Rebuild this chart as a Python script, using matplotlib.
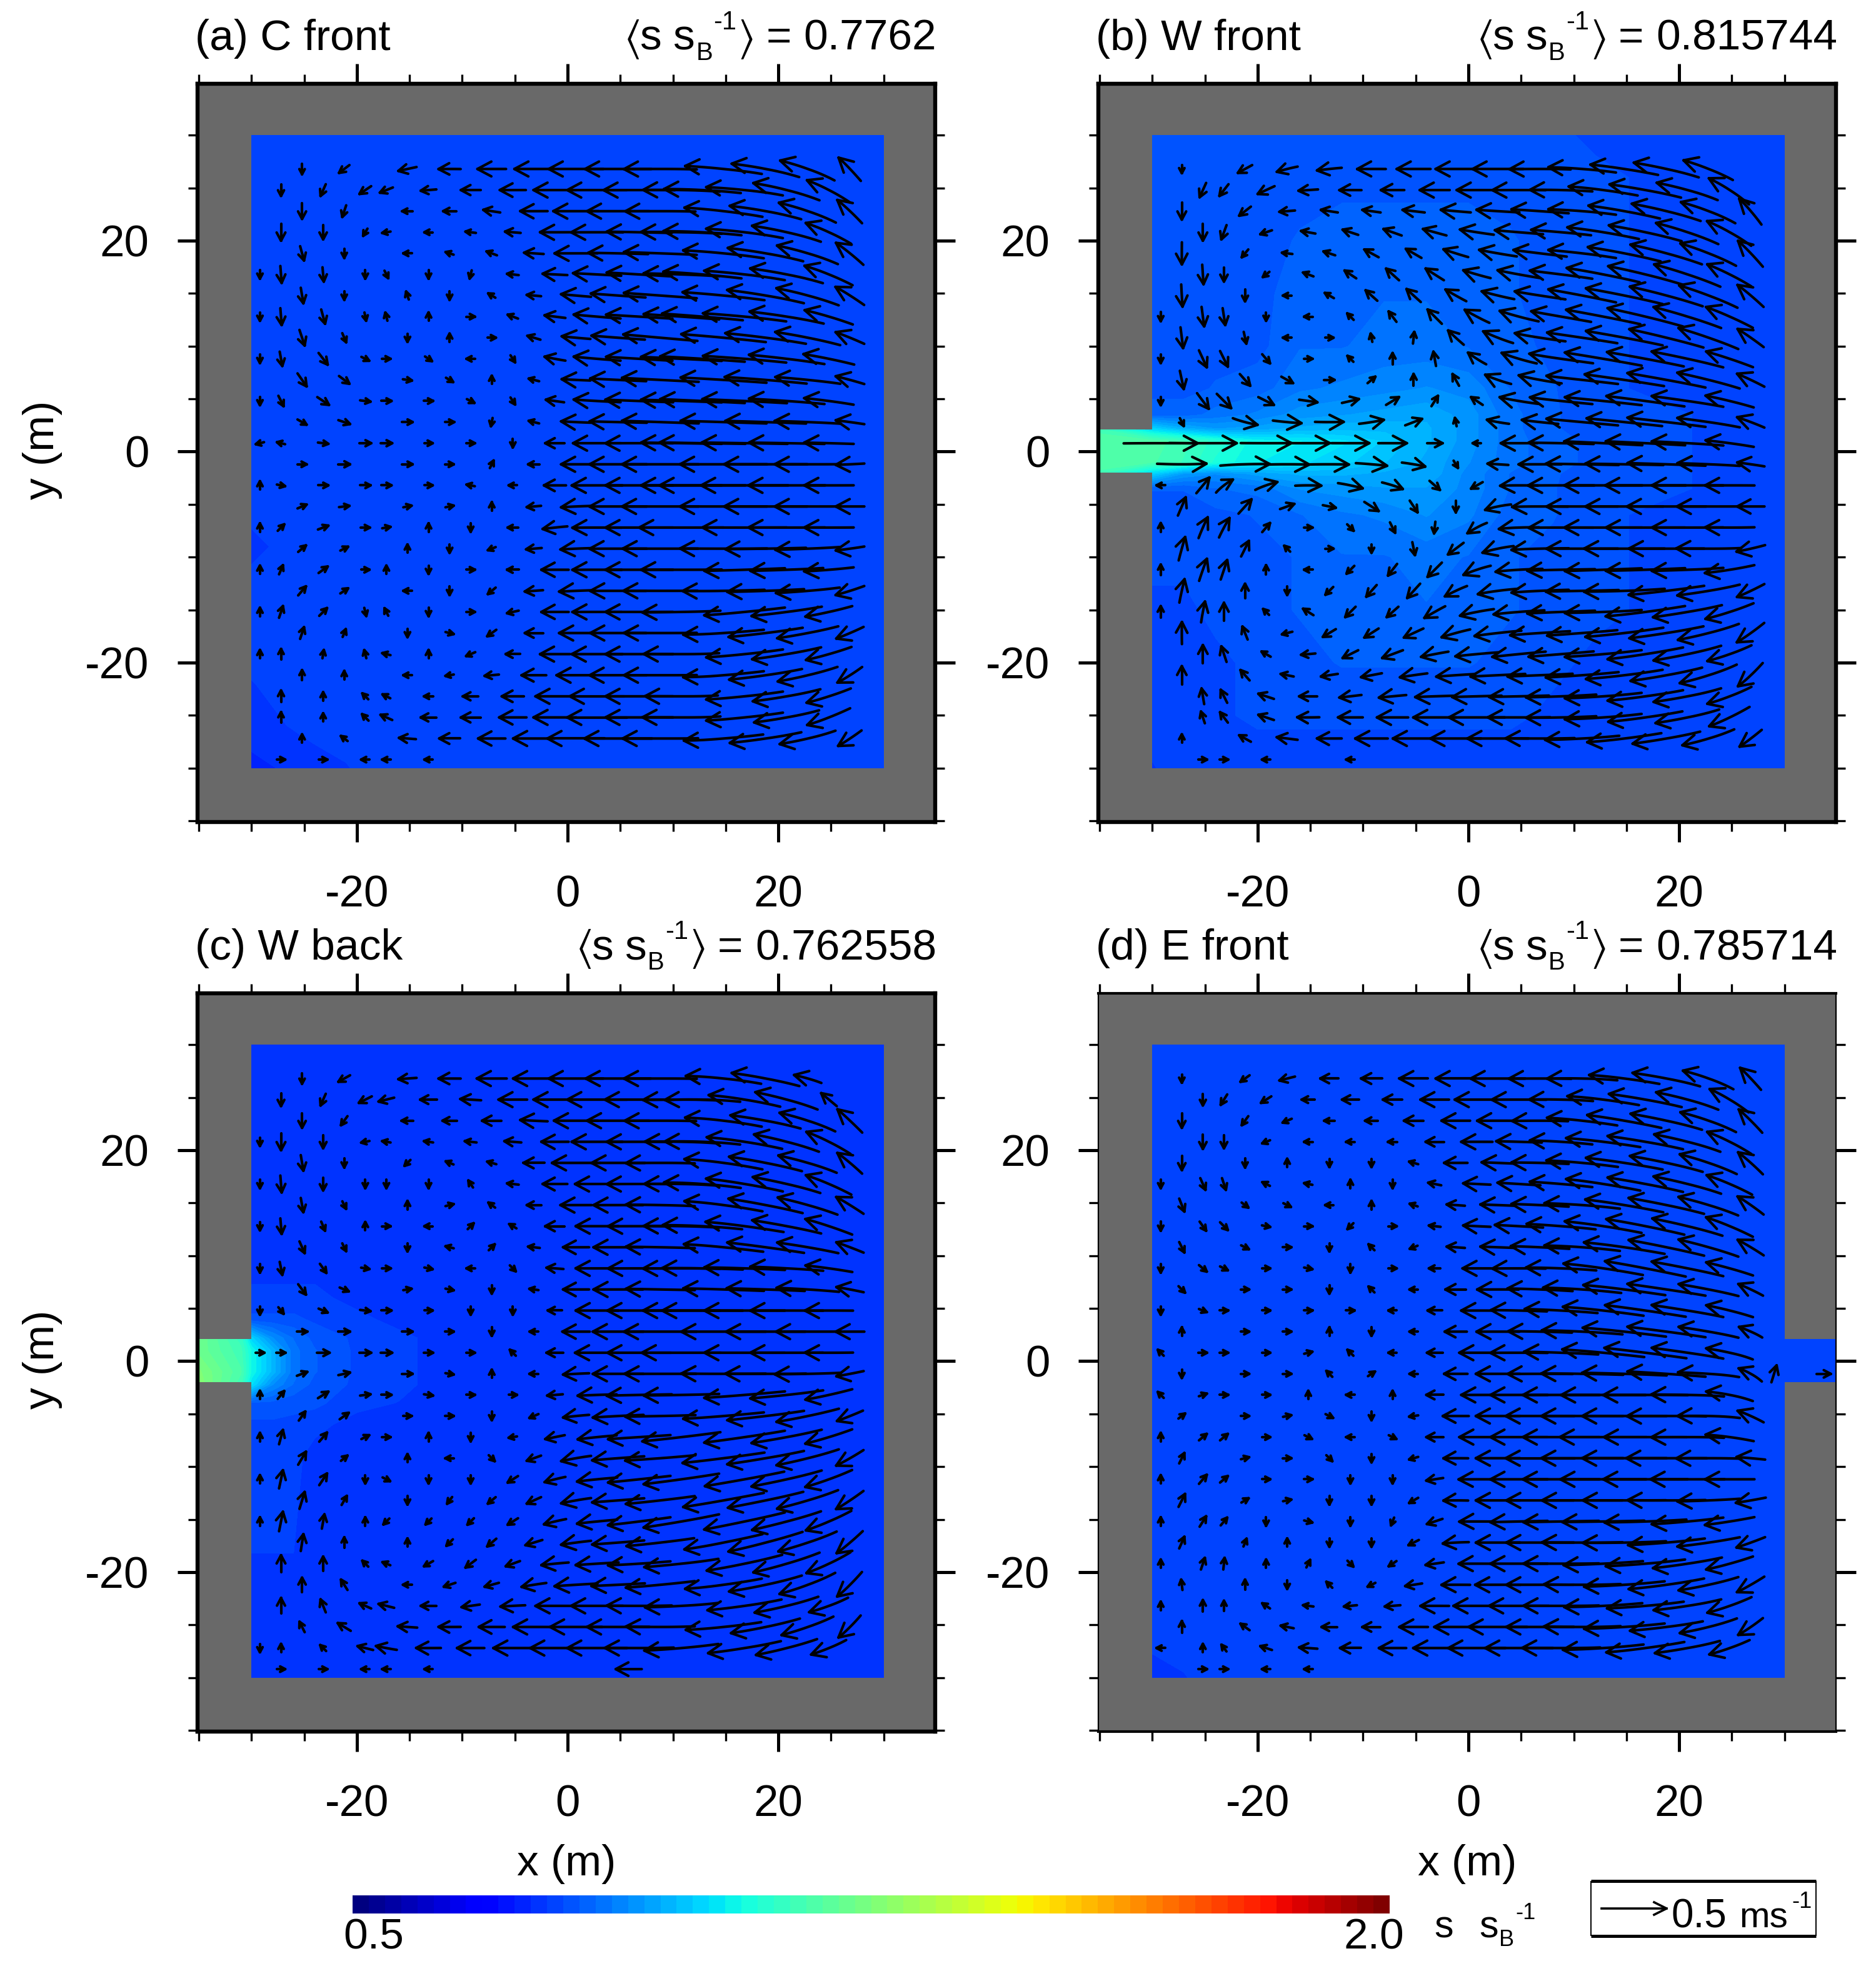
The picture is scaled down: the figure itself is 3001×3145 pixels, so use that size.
#!/usr/bin/env python3
import numpy as np
import matplotlib
matplotlib.use("Agg")
import matplotlib.pyplot as plt
from matplotlib.collections import LineCollection
from matplotlib.colorbar import Colorbar
from matplotlib.colors import Normalize
from matplotlib.cm import ScalarMappable
from matplotlib.lines import Line2D
from matplotlib.patches import Rectangle

W, H = 3001, 3145
plt.rcParams['font.family'] = ['Liberation Sans', 'DejaVu Sans']
plt.rcParams['axes.unicode_minus'] = False
plt.rcParams['mathtext.fontset'] = 'custom'
plt.rcParams['mathtext.rm'] = 'Liberation Sans'
plt.rcParams['mathtext.it'] = 'Liberation Sans'
plt.rcParams['mathtext.bf'] = 'Liberation Sans'
plt.rcParams['mathtext.default'] = 'regular'

# arrow columns (m) for the thinned grid, two patterns per panel family
cols_A = [-29, -27, -23, -19, -17, -13, -9, -5, -1, 3, 7, 11, 13, 17, 21, 25]
cols_B = [-25, -21, -15, -11, -7, -3, 1, 5, 9, 15, 19, 23, 27]
cols_P = [-27, -21, -17, -13, -9, -5, -1, 3, 7, 11, 15, 19, 23, 27]
cols_Q = [-29, -25, -23, -19, -15, -11, -7, -3, 1, 5, 9, 13, 17, 21, 25]
col_sets = {'A': cols_A, 'B': cols_B, 'P': cols_P, 'Q': cols_Q}
row_y = [26.8 - 2 * k for k in range(29)]

types_a = 'BABABABABABABABABABABABABAABA'
types_b = 'PQPQPQPQPQPQPQPQPQPQPQPQPQQPQ'
types_c = 'BABABABABABABABABABABABABABAA'
types_d = 'PQPQPQPQPQPQPQPQPQPQPQPQPQPQQ'

# velocities in cm/s, flat u,v pairs, one list per row from top to bottom
vel_a = [
 [0,-8, -8,-6, -14,-3, -17,0, -22,0, -30,0, -42,0, -51,0, -56,0, -59,6, -52,10, -42,15, -17,18],
 [0,0, 0,-9, -4,-9, -9,-6, -10,-4, -12,-1, -15,0, -20,0, -33,0, -46,0, -55,0, -59,1, -59,3, -59,6, -51,13, -33,17],
 [0,-12, -3,-9, -8,0, -10,0, -13,2, -21,0, -35,0, -48,0, -54,0, -60,7, -55,10, -44,15, -19,18],
 [0,0, 0,-13, 0,-11, -3,-5, -6,-1, -6,0, -8,1, -12,1, -23,0, -40,0, -50,1, -62,1, -60,3, -59,7, -53,12, -35,16],
 [3,-11, 0,-7, -6,0, -6,2, -8,3, -15,1, -33,0, -46,1, -56,2, -62,6, -58,10, -47,14, -21,17],
 [0,-6, 1,-13, 1,-11, 0,-5, 2,-4, 0,-4, -1,-4, -9,1, -19,1, -37,2, -50,3, -58,2, -60,5, -62,7, -56,11, -37,15],
 [2,-12, 0,-6, -1,3, 0,-5, -5,3, -11,1, -23,2, -42,3, -56,4, -63,6, -59,10, -48,13, -22,14],
 [0,-6, 1,-13, 3,-11, 1,-5, -1,4, 0,5, 4,0, -8,3, -16,2, -36,3, -51,3, -58,4, -62,5, -64,6, -57,9, -37,11],
 [4,-12, 3,-7, 0,-5, 0,5, 4,0, -10,3, -22,2, -41,3, -57,5, -65,6, -62,8, -50,10, -22,9],
 [0,-5, 2,-11, 7,-9, 6,-3, 6,0, 3,-2, -4,0, 2,-3, -16,3, -36,3, -51,3, -62,3, -65,4, -64,5, -58,7, -39,8],
 [7,-10, 8,-6, 7,-1, 5,-3, 0,5, -8,2, -22,1, -43,2, -59,3, -66,4, -63,5, -50,5, -22,6],
 [0,-4, 4,-8, 9,-6, 8,-1, 8,0, 7,0, 4,-2, 2,-3, -14,2, -36,2, -52,2, -62,2, -65,3, -65,3, -58,4, -38,5],
 [7,-4, 9,-3, 8,0, 7,0, -1,-5, -8,2, -23,1, -44,1, -59,2, -66,2, -62,2, -51,2, -22,3],
 [-4,-1, -4,1, 8,-1, 9,0, 9,0, 6,0, 5,0, 0,-5, -15,0, -37,0, -52,0, -62,1, -66,1, -66,1, -58,1, -38,1],
 [7,0, 9,0, 8,0, 5,0, 2,4, -9,0, -23,0, -44,0, -59,0, -67,0, -64,0, -51,0, -22,-1],
 [0,4, 5,-1, 8,0, 8,0, 8,0, 6,0, -5,1, -5,0, -17,0, -39,0, -52,0, -62,0, -66,0, -67,0, -59,0, -38,0],
 [7,3, 8,1, 5,1, 5,1, 0,5, -11,-1, -23,-1, -44,0, -59,0, -67,0, -64,0, -51,0, -22,0],
 [0,5, 5,5, 8,3, 7,0, 6,1, 0,5, 0,-5, -8,0, -19,-2, -38,0, -52,0, -65,0, 0,0, -65,0, -59,0, -38,0],
 [6,5, 6,3, 0,4, 0,-4, -5,-2, -12,-1, -24,-1, -44,0, -58,0, -67,0, -62,-1, -50,-2, -22,-3],
 [0,5, 3,7, 7,5, 4,0, 0,5, 0,-4, 4,0, -9,0, -21,0, -38,0, -52,0, -62,0, 0,0, -62,-2, -56,-2, -38,-3],
 [6,7, 6,4, -4,0, 0,-4, -6,-5, -14,-1, -26,-1, -43,0, -57,0, -63,-1, -59,-2, -49,-4, -22,-7],
 [0,5, 3,9, 6,6, 1,-4, -2,4, 0,-4, 4,0, -9,-2, -21,0, -38,0, -52,0, -60,-1, 0,0, -62,-6, -54,-7, -36,-8],
 [3,9, 2,5, 0,-5, 4,-1, -7,-5, -14,0, -26,0, -43,0, -56,0, -62,-4, -57,-7, -47,-9, -21,-9],
 [0,5, 0,8, 1,6, -1,4, -4,1, 0,4, -7,-3, -11,0, -23,0, -39,0, -52,0, -58,0, 0,0, -59,-6, -53,-9, -35,-10],
 [0,8, 0,6, -5,0, -6,-1, -11,-1, -19,0, -30,0, -44,0, -56,0, -62,-5, -56,-8, -46,-11, -19,-12],
 [0,0, 0,9, 0,6, -4,4, -6,3, -7,0, -12,0, -17,0, -30,0, -42,0, -52,0, -56,0, 0,0, -59,-6, -52,-9, -34,-11],
 [0,0, 0,8, 0,5, -5,5, -9,4, -12,0, -15,0, -21,0, -33,0, -46,0, -52,0, -60,0, 0,0, -59,-6, -50,-9, -33,-13],
 [0,5, -4,3, -13,1, -16,0, -21,0, -32,0, -44,0, -52,0, -58,0, -61,-5, -55,-8, -43,-10, -18,-12],
 [0,0, 4,0, 4,0, -4,0, -4,0, -5,0],
]

vel_b = [
 [0,-5, -11,-6, -16,-4, -19,-2, -22,0, -26,0, -31,0, -39,0, -47,0, -52,4, -52,8, -50,11, -38,15, 0,0],
 [0,0, -5,-11, -7,-9, -13,-6, -15,-1, -17,0, -18,0, -23,0, -31,0, -41,0, -48,1, -53,7, -55,10, -47,13, -31,20],
 [0,-13, -9,-7, -12,-1, -13,2, -14,2, -17,2, -23,2, -33,2, -44,3, -52,4, -55,10, -53,13, -42,16, -17,20],
 [0,0, 0,-13, -4,-11, -9,-3, -11,2, -12,4, -14,5, -18,5, -26,4, -37,3, -46,4, -55,9, -56,12, -48,16, -34,19],
 [0,-17, -5,-6, -8,1, -9,3, -11,6, -12,7, -19,6, -29,5, -41,5, -52,6, -56,11, -55,15, -43,17, -19,20],
 [0,0, 1,-15, 0,-11, -5,-4, -8,3, -9,6, -10,9, -14,9, -21,6, -33,6, -48,6, -56,11, -57,14, -51,17, -34,17],
 [1,-17, 0,-9, -6,0, -7,4, -9,8, -11,10, -16,9, -25,6, -39,6, -52,10, -59,12, -56,15, -45,17, -20,17],
 [0,-7, 2,-15, 2,-13, 0,-5, -5,0, -5,5, -6,8, -11,11, -19,10, -30,8, -46,8, -57,11, -58,14, -52,16, -36,16],
 [2,-16, 2,-9, -4,0, 3,0, -1,5, 1,9, -12,11, -23,9, -39,6, -54,8, -59,11, -57,14, -46,16, -20,14],
 [0,-6, 6,-13, 6,-12, 6,-7, 4,0, -3,3, 0,9, -2,11, -14,9, -27,8, -49,7, -59,10, -59,11, -55,12, -36,12],
 [3,-14, 8,-9, 9,-5, 8,0, 6,5, 0,9, -5,9, -20,7, -33,6, -55,6, -61,9, -60,11, -48,12, -21,10],
 [0,-4, 9,-12, 11,-11, 12,-6, 14,-2, 13,3, 10,6, 5,8, -9,6, -30,5, -48,5, -59,6, -60,8, -55,8, -37,9],
 [3,-6, 19,-5, 22,-2, 22,0, 19,3, 13,5, -1,5, -17,3, -28,3, -55,5, -58,6, -60,7, -48,7, -21,8],
 [57,0, 52,0, 0,0, 39,0, 33,0, 29,0, 22,0, 12,0, -5,0, -28,0, -50,1, -60,3, -61,3, -55,3, -37,5],
 [38,0, 38,1, 34,0, 30,0, 24,-2, 18,-3, 3,-5, -16,1, -33,0, -56,1, -60,1, -60,2, -48,2, -21,3],
 [-4,0, 10,12, 13,10, 17,6, 20,0, 19,-4, 16,-5, 8,-7, -9,-5, -29,0, -51,0, -60,0, -62,0, -55,0, -38,0],
 [6,14, 10,11, 11,4, 10,-2, 11,-7, 6,-9, 0,-9, -20,-4, -43,0, -55,0, -60,0, -61,0, -49,0, -21,0],
 [0,7, 7,16, 8,15, 6,7, 5,0, 5,-5, 4,-8, -1,-9, -15,-8, -31,-1, -50,0, -60,0, -61,0, -55,0, -38,0],
 [5,18, 6,12, -3,3, 3,0, 0,-5, 2,-10, -12,-9, -24,-5, -44,-1, -55,0, -62,0, -58,0, -50,0, -22,-5],
 [0,8, 6,17, 5,15, 0,7, -5,0, -6,-6, -7,-9, -11,-11, -21,-7, -36,-2, -52,-1, -59,-2, -61,-2, -55,-2, -38,-6],
 [4,18, 0,11, 0,-5, -6,-6, -8,-9, -10,-11, -17,-8, -31,-4, -44,-2, -56,-1, -62,-2, -58,-7, -48,-8, -21,-10],
 [0,9, 3,16, 0,14, -4,4, -8,5, -8,-8, -9,-8, -16,-9, -26,-5, -39,-3, -52,-2, -59,-2, -61,-8, -53,-9, -37,-12],
 [0,17, -4,10, -8,-2, -10,-6, -11,-7, -15,-7, -22,-6, -36,-4, -46,-3, -54,-4, -60,-7, -57,-9, -47,-12, -21,-15],
 [0,0, 0,14, -4,12, -7,4, -11,-1, -12,-6, -16,-6, -21,-4, -33,-3, -41,-4, -50,-4, -59,-5, -58,-9, -52,-11, -34,-12],
 [0,14, -7,8, -10,2, -13,-2, -16,-3, -21,-3, -30,-2, -42,-2, -50,-2, -56,-4, -59,-7, -55,-10, -44,-14, -19,-18],
 [0,0, -2,12, -5,10, -12,4, -14,0, -17,-2, -21,-2, -30,-1, -38,-1, -46,-1, -54,-2, -59,-4, -58,-8, -52,-10, -34,-13],
 [0,0, -3,9, -6,8, -12,4, -17,0, -19,0, -24,0, -33,0, -43,0, -48,0, -54,-1, -59,-4, -57,-8, -49,-10, -31,-15],
 [0,5, -9,5, -16,2, -19,0, -25,0, -32,0, -39,0, -47,0, -53,0, -57,-3, -57,-7, -52,-9, -40,-12, -17,-13],
 [0,0, 4,0, 4,0, -4,0, 0,0, -6,0],
]

vel_c = [
 [0,-8, -9,-5, -14,-1, -17,0, -23,0, -32,0, -42,0, -50,0, -56,0, -58,6, -52,10, -21,6, 0,0],
 [0,0, 0,-10, -4,-9, -10,-5, -12,-3, -13,0, -16,1, -22,0, -33,0, -46,0, -53,0, -59,0, -58,1, -55,9, -48,13, -12,10],
 [0,-11, -5,-7, -9,0, -11,0, -15,0, -21,1, -34,0, -48,0, -55,0, -59,7, -54,10, -43,14, -19,18],
 [0,-6, 0,-13, 0,-10, -5,-1, -6,1, -7,1, -9,1, -13,1, -21,0, -39,0, -50,0, -56,1, -58,2, -58,9, -50,13, -34,17],
 [2,-12, 0,-7, -3,-3, -5,2, -7,2, -16,0, -37,0, -41,0, -53,0, -60,8, -56,11, -45,13, -19,16],
 [0,-5, 1,-13, 0,-10, 0,-4, 0,-4, 0,-4, -2,3, -9,1, -19,0, -34,0, -50,0, -57,1, -59,4, -59,10, -52,12, -35,15],
 [2,-11, 2,-4, 0,4, 4,1, -4,3, -11,0, -24,0, -38,0, -53,1, -60,8, -57,11, -46,13, -21,13],
 [0,-5, 1,-12, 3,-7, 0,4, 4,0, -4,0, 3,3, -5,3, -15,0, -33,0, -48,0, -58,1, -61,3, -60,8, -53,10, -36,12],
 [4,-9, 3,-6, 0,-4, -4,1, 3,3, -9,1, -20,0, -38,0, -53,1, -61,6, -59,8, -47,8, -21,8],
 [0,-5, 2,-10, 5,-7, 6,-1, 7,0, 5,-1, -4,0, 3,-3, -13,1, -33,0, -48,0, -59,0, -62,1, -62,2, -56,3, -36,5],
 [6,-8, 7,-3, 6,1, 5,-1, 0,-4, -7,1, -20,0, -38,0, -53,1, -62,2, -60,2, -48,3, -21,4],
 [0,-4, 4,-5, 7,-3, 8,-1, 8,0, 6,0, 0,-4, 0,-4, -11,0, -33,0, -49,0, -59,0, -62,0, -62,0, -56,0, -37,0],
 [8,0, 9,0, 8,0, 6,0, 0,-4, -6,0, -21,0, -39,0, -56,0, -65,0, -61,0, -49,0, -22,0],
 [7,0, 7,0, 10,0, 9,0, 9,0, 7,0, 5,0, -3,3, -13,0, -34,0, -49,0, -61,0, 0,0, -62,0, -56,0, -37,0],
 [8,3, 9,2, 8,0, 6,-1, 0,4, -7,0, -20,-1, -39,0, -55,0, -65,0, -62,0, -51,-1, -21,-4],
 [0,5, 5,6, 8,5, 8,1, 8,0, 7,-1, 3,0, 3,0, -12,-1, -30,-1, -50,-1, -58,-1, 0,0, -62,-5, -56,-6, -36,-8],
 [5,7, 7,5, 6,0, 5,0, 0,-4, -7,-3, -20,-2, -39,-2, -54,-1, -62,-5, -59,-7, -48,-10, -20,-8],
 [0,5, 3,11, 6,7, 6,3, 6,0, 0,4, 0,-4, -6,-1, -15,-3, -30,-3, -48,-3, -60,-7, 0,0, -62,-9, -54,-10, -36,-11],
 [6,10, 5,4, 0,4, -4,0, 3,-3, -11,-4, -23,-4, -40,-3, -54,-4, -63,-8, -59,-10, -48,-12, -21,-12],
 [0,6, 3,14, 6,9, 0,-4, 4,-2, 0,-4, 0,-5, -8,-5, -16,-4, -31,-3, -48,-5, -58,-8, 0,0, -61,-11, -54,-12, -36,-13],
 [4,13, 4,7, 0,-4, -3,-4, -6,-5, -11,-5, -23,-4, -40,-3, -53,-6, -62,-11, -58,-12, -47,-14, -21,-14],
 [0,6, 3,15, 2,11, 0,4, -3,-3, -3,-3, -5,-5, -8,-5, -17,-4, -31,-3, -48,-6, -58,-10, 0,0, -62,-13, -53,-14, -35,-15],
 [2,13, 0,8, 0,5, -5,-5, -7,-6, -13,-4, -23,-3, -40,-3, -52,-6, -60,-12, -57,-15, -45,-15, -20,-17],
 [0,0, 0,13, 0,11, -4,4, -5,2, -7,-4, -8,-6, -11,-4, -21,-2, -33,-2, -48,-3, -57,-6, 0,0, -58,-12, -51,-15, -34,-16],
 [0,11, -5,8, -7,0, -9,-3, -11,-3, -19,-3, -33,-2, -41,-2, -53,-5, -59,-8, -56,-12, -43,-16, -19,-19],
 [0,0, 0,12, -4,10, -9,4, -12,3, -12,0, -14,-2, -19,-1, -30,0, -40,0, -50,0, -56,-3, 0,0, -57,-8, -49,-12, -30,-11],
 [-4,8, -10,6, -15,1, -17,0, -20,0, -32,0, -40,0, -48,0, -53,0, -58,-6, -53,-11, -40,-14, -17,-17],
 [0,-3, 0,5, -4,4, -12,3, -16,3, -19,0, -21,0, -30,0, -38,0, -46,0, -53,0, -57,-5, 0,0, -56,-9, -47,-12, -27,-11],
 [0,0, 4,0, 4,0, -4,0, -4,0, -5,0],
]

vel_d = [
 [0,-5, -7,-5, -12,-3, -14,0, -16,0, -22,0, -31,0, -42,0, -48,0, -54,1, -54,7, -52,10, -39,14, -16,17],
 [0,0, 0,-9, -5,-8, -8,-5, -10,0, -13,0, -15,0, -22,0, -34,0, -42,0, -49,1, -55,7, -56,10, -48,13, -30,18],
 [0,-11, -5,-7, -7,-3, -8,0, -10,0, -15,0, -22,0, -32,0, -43,0, -54,6, -57,10, -55,12, -43,15, -18,18],
 [0,0, 0,-11, 0,-10, -5,-2, -5,0, -5,0, -7,0, -14,0, -24,0, -35,1, -48,3, -57,7, -58,10, -51,13, -34,17],
 [0,-11, 0,-7, 0,5, 0,-4, 0,-5, -7,2, -18,0, -25,1, -44,1, -55,5, -59,9, -56,12, -44,15, -19,17],
 [0,-6, 4,-9, 3,-9, -4,2, -5,1, 0,5, 0,-5, -10,2, -21,1, -33,2, -48,4, -57,9, -58,11, -52,13, -35,15],
 [4,-10, 4,-3, 4,-2, -5,0, 0,5, -6,2, -14,1, -27,1, -44,2, -58,4, -60,10, -58,12, -46,14, -20,14],
 [0,-7, 5,-7, 6,-6, 5,-1, 5,0, -3,-3, 4,0, -9,1, -21,1, -37,2, -53,4, -59,9, -60,12, -54,13, -36,15],
 [4,-8, 6,-3, 5,0, 0,-5, -3,3, -5,-2, -14,1, -27,1, -45,2, -58,4, -62,9, -58,12, -46,13, -20,12],
 [0,-5, 6,-5, 6,-3, 6,0, 5,-1, 0,-4, 4,0, -9,0, -22,0, -41,0, -54,2, -61,9, -62,12, -55,11, -36,10],
 [5,-5, 6,0, 5,0, 0,-4, -3,3, -5,0, -16,0, -32,0, -50,2, -60,4, -63,8, -60,9, -46,9, -19,9],
 [0,-5, 5,-2, 6,0, 5,0, 4,0, 4,0, -4,0, -11,0, -24,0, -43,1, -56,3, -62,7, -62,9, -55,9, -36,9],
 [0,4, 5,0, 5,0, 0,4, 0,-5, -5,0, -17,0, -33,0, -49,1, -62,3, -64,7, -60,8, -46,8, -18,8],
 [-3,3, 5,0, 5,0, 5,0, 4,1, -3,3, -4,0, -12,0, -27,0, -44,0, -57,2, -63,6, -63,8, -55,8, -36,8],
 [0,-4, 5,0, 6,0, -3,3, 3,2, -6,0, -18,0, -34,0, -50,0, -63,1, -65,2, -60,4, -47,3, -18,10],
 [-3,3, 6,2, 5,0, 5,0, 0,4, -4,0, 0,4, -13,0, -24,0, -44,0, -59,0, -65,0, -65,0, -56,1, -36,7],
 [4,3, 5,0, 5,1, 4,-2, 0,-5, -7,-1, -20,0, -34,0, -53,0, -63,0, -65,0, -61,0, -48,1, -20,9],
 [0,5, 6,5, 6,5, 5,0, 4,-2, -4,0, 4,-2, -13,0, -27,0, -44,0, -59,0, -67,0, -64,0, -56,0, -37,5],
 [4,8, 4,1, 5,0, 3,-3, 0,-5, -7,-2, -19,0, -34,0, -53,0, -63,0, -65,0, -62,0, -50,0, -22,2],
 [0,5, 6,7, 6,5, 5,0, 4,0, 0,-4, 0,-5, -13,-2, -28,0, -44,0, -59,0, -66,0, -65,0, -57,0, -38,0],
 [5,10, 5,3, 5,1, 0,-4, 0,-5, -7,-4, -19,0, -34,0, -52,0, -62,0, -64,0, -60,0, -48,-2, -23,-4],
 [0,6, 5,8, 5,6, 0,-4, 4,-1, 0,-5, -2,-5, -12,-4, -27,0, -44,-1, -58,-1, -63,-1, -63,-2, -55,-5, -38,-6],
 [4,9, 2,5, 0,5, 0,-5, 0,-5, -8,-4, -20,-1, -34,0, -52,0, -62,0, -64,-1, -59,-5, -48,-7, -22,-8],
 [0,6, 3,9, 1,9, 0,5, 2,4, 3,-3, -6,-4, -14,-2, -28,0, -44,0, -58,0, -61,-3, -61,-5, -53,-8, -36,-10],
 [-1,8, 0,8, 0,-5, -4,4, -6,-3, -13,-2, -22,0, -35,0, -52,0, -59,0, -62,-4, -58,-8, -46,-10, -21,-12],
 [0,5, 0,9, 0,8, -6,4, -8,1, -10,-1, -12,-1, -22,0, -36,0, -46,0, -58,0, -60,-3, -59,-5, -52,-8, -34,-12],
 [0,9, -7,5, -10,2, -12,0, -14,0, -22,0, -33,0, -45,0, -52,0, -59,0, -62,-4, -56,-7, -44,-11, -19,-13],
 [-3,0, 0,5, -3,4, -9,3, -14,1, -16,0, -21,0, -33,0, -44,0, -52,0, -60,0, -62,-4, -60,-8, -50,-9, -31,-11],
 [0,0, 4,0, 3,0, -4,0, -4,0],
]

# arrows that fall off the regular columns: x, y, u, v
extra_a = []
extra_b = []
extra_c = [(5.8, -29.2, -20, 0)]
extra_d = [(29.0, -1.2, 4, 13), (33.7, -1.2, 11, 0)]

# s/s_B field, hundredths, tables
field_ax = [-36, -30, -27, -24, -21, -18, 36]
field_ay = [36, -6, -9, -12, -19, -22, -26, -30, -36]
field_a = [
 [79, 79, 79, 79, 79, 79, 79],
 [79, 79, 79, 79, 79, 79, 79],
 [77, 77, 79, 79, 79, 79, 79],
 [79, 79, 79, 79, 79, 79, 79],
 [79, 79, 79, 79, 79, 79, 79],
 [77, 78, 79, 79, 79, 79, 79],
 [76, 77, 78, 79, 79, 79, 79],
 [75, 75, 76, 77, 78, 79, 79],
 [75, 75, 76, 77, 78, 79, 79],
]
field_bx = [-36, -30, -27, -24, -20, -16, -12, -8, -4, 0, 4, 8, 12, 18, 24, 30, 36]
field_by = [30, 26, 20, 15, 10, 6, 3.5, 2.2, 1, -1, -2.1, -3.5, -6, -10, -15, -20, -25, -30]
field_b = [
 [79, 82, 82, 82, 81, 81, 81, 81, 81, 81, 81, 81, 80, 79, 79, 79, 79],
 [79, 82, 82, 82, 82, 82, 82, 82, 82, 82, 82, 81, 81, 80, 79, 79, 79],
 [79, 82, 82, 82, 82, 83, 84, 84, 84, 84, 83, 82, 81, 80, 79, 79, 79],
 [79, 82, 82, 82, 82, 84, 85, 85, 85, 85, 83, 82, 81, 80, 79, 79, 79],
 [79, 81, 81, 82, 82, 85, 85, 86, 86, 85, 84, 82, 81, 80, 79, 79, 79],
 [79, 82, 82, 83, 84, 87, 88, 89, 90, 89, 85, 83, 81, 80, 80, 79, 79],
 [79, 84, 84, 86, 88, 91, 92, 93, 94, 91, 86, 83, 82, 81, 80, 79, 79],
 [115, 100, 95, 92, 93, 95, 96, 96, 95, 91, 86, 83, 82, 81, 80, 79, 79],
 [117, 117, 114, 110, 105, 104, 102, 99, 95, 91, 86, 84, 82, 81, 80, 79, 79],
 [118, 116, 113, 108, 104, 102, 100, 97, 94, 90, 86, 84, 82, 81, 80, 79, 79],
 [115, 100, 92, 90, 93, 95, 95, 94, 94, 89, 85, 83, 82, 81, 80, 79, 79],
 [79, 83, 83, 85, 86, 90, 91, 92, 92, 89, 85, 83, 81, 81, 80, 79, 79],
 [79, 81, 81, 82, 83, 85, 87, 88, 90, 88, 84, 83, 81, 80, 80, 79, 79],
 [79, 81, 81, 81, 82, 83, 85, 85, 86, 85, 83, 82, 81, 80, 79, 79, 79],
 [79, 80, 80, 81, 82, 83, 84, 85, 85, 84, 83, 82, 81, 80, 79, 79, 79],
 [79, 79, 79, 80, 81, 82, 83, 83, 83, 83, 82, 81, 80, 79, 79, 79, 79],
 [79, 79, 79, 80, 81, 81, 81, 81, 81, 81, 81, 80, 80, 79, 79, 79, 79],
 [79, 78, 79, 79, 79, 79, 79, 79, 79, 79, 79, 79, 79, 79, 79, 79, 79],
]
field_cx = [-36, -31, -30, -28, -26, -24, -20, -16, -12, 36]
field_cy = [30, 9, 6, 4, 2.2, 1, -1, -2.2, -4, -6, -9, -30]
field_c = [
 [77, 77, 77, 77, 77, 77, 77, 77, 77, 77],
 [77, 77, 77, 77, 77, 77, 77, 77, 77, 77],
 [77, 79, 79, 79, 79, 79, 77, 77, 77, 77],
 [79, 81, 81, 81, 81, 80, 79, 77, 77, 77],
 [125, 112, 100, 90, 85, 82, 80, 79, 77, 77],
 [124, 114, 106, 96, 86, 83, 80, 79, 77, 77],
 [128, 116, 106, 96, 86, 83, 80, 79, 77, 77],
 [130, 114, 102, 90, 85, 82, 80, 79, 77, 77],
 [79, 81, 82, 82, 81, 81, 79, 78, 77, 77],
 [77, 80, 80, 80, 80, 79, 77, 77, 77, 77],
 [77, 79, 79, 79, 79, 77, 77, 77, 77, 77],
 [77, 77, 77, 77, 77, 77, 77, 77, 77, 77],
]
field_dx = [-36, -30, -27, -24, 36]
field_dy = [30, -26, -30]
field_d = [
 [79, 79, 79, 79, 79],
 [79, 79, 79, 79, 79],
 [77, 77, 78, 79, 79],
]

titles = ['(a) C front', '(b) W front', '(c) W back', '(d) E front']
means = ['0.7762', '0.815744', '0.762558', '0.785714']
slot_side = [None, 'left', 'left', 'right']

GREY = '#696969'
M_PER_CMS = 6.17 / 50.0
cmap = plt.get_cmap('jet', 64)
levels = np.linspace(0.5, 2.0, 65)


def unpack(rows, types, extra):
    pts = []
    for k, row in enumerate(rows):
        cols = col_sets[types[k]]
        assert len(row) == 2 * len(cols) or k == 28, (types[k], k, len(row))
        for i in range(len(row) // 2):
            if row[2 * i] == 0 and row[2 * i + 1] == 0:
                continue
            pts.append((cols[i] - 0.2, row_y[k], row[2 * i], row[2 * i + 1]))
    pts.extend(extra)
    return np.array(pts, dtype=float)


def field_at(q, pts, sigma=2.0):
    d2 = (pts[:, 0] - q[0]) ** 2 + (pts[:, 1] - q[1]) ** 2
    w = np.exp(-d2 / (2 * sigma ** 2))
    return (w[:, None] * pts[:, 2:4]).sum(axis=0) / (w.sum() + 1e-9)


def curly(p, vel, pts, nsteps=6):
    # follows the field both ways from the grid point, so corners bend
    speed = np.hypot(*vel)
    L = max(speed * M_PER_CMS, 0.8)
    if L < 2.0:
        return np.array([p - 0.5 * L * vel / speed, p + 0.5 * L * vel / speed])
    f0 = field_at(p, pts)
    ds = 0.5 * L / nsteps
    fwd, back = [p], [p]
    for line, sgn in ((fwd, 1.0), (back, -1.0)):
        q = p.copy()
        for _ in range(nsteps):
            d = vel + field_at(q, pts) - f0
            q = q + sgn * ds * d / (np.hypot(*d) + 1e-9)
            line.append(q)
    return np.array(back[::-1] + fwd[1:])


def head_segments(line):
    L = np.hypot(*(line[-1] - line[0]))
    h = min(1.5, max(0.55, 0.55 * L))
    tip = line[-1]
    d = tip - line[-2] if len(line) == 2 else tip - line[-3]
    d = d / (np.hypot(*d) + 1e-9)
    segs = []
    for a in (np.radians(152), np.radians(-152)):
        rot = np.array([d[0] * np.cos(a) - d[1] * np.sin(a), d[0] * np.sin(a) + d[1] * np.cos(a)])
        segs.append(np.array([tip, tip + h * rot]))
    return segs


def draw_panel(ax, i, fx, fy, field, pts):
    Z = np.array(field, dtype=float) / 100.0
    ax.contourf(fx, fy, Z, levels=levels, cmap=cmap, vmin=0.5, vmax=2.0, antialiased=False)
    # building walls
    walls = [(-36, 30, 72, 6), (-36, -36, 72, 6)]
    side = slot_side[i]
    for x0, name in ((-36, 'left'), (30, 'right')):
        if side == name:
            walls.append((x0, 2.1, 6, 27.9))
            walls.append((x0, -30, 6, 28.0))
        else:
            walls.append((x0, -30, 6, 60))
    for x0, y0, w, h in walls:
        ax.add_patch(Rectangle((x0, y0), w, h, fc=GREY, ec=GREY, lw=0, zorder=2))
    segs = []
    for row in pts:
        p, vel = row[:2], row[2:4]
        line = curly(p, vel, pts)
        segs.append(line)
        segs.extend(head_segments(line))
    ax.add_collection(LineCollection(segs, colors='k', linewidths=3.0, capstyle='round',
                                     joinstyle='round', zorder=3))
    ax.set_xlim(-35.12, 34.88)
    ax.set_ylim(-35.12, 34.88)
    ax.set_xticks([-20, 0, 20])
    ax.set_yticks([-20, 0, 20])
    ax.set_xticks(np.arange(-35, 35, 5), minor=True)
    ax.set_yticks(np.arange(-35, 35, 5), minor=True)
    ax.tick_params(which='major', top=True, right=True, direction='out', length=23, width=3.6,
                   labelsize=51)
    ax.tick_params(which='minor', top=True, right=True, direction='out', length=11, width=2.4)
    ax.tick_params(axis='x', which='major', pad=38)
    ax.tick_params(axis='y', which='major', pad=33)
    if i == 3:
        for s in ('left', 'right'):
            ax.spines[s].set_linewidth(1.6)
        for s in ('top', 'bottom'):
            ax.spines[s].set_linewidth(3.0)
    else:
        for s in ax.spines.values():
            s.set_linewidth(4.6)


fig = plt.figure(figsize=(W / 100, H / 100), dpi=100, facecolor='white')
boxes = [(316, 134), (1757, 134), (316, 1589), (1757, 1589)]
panel_w, panel_h = 1180, 1181
data = [
    (field_ax, field_ay, field_a, unpack(vel_a, types_a, extra_a)),
    (field_bx, field_by, field_b, unpack(vel_b, types_b, extra_b)),
    (field_cx, field_cy, field_c, unpack(vel_c, types_c, extra_c)),
    (field_dx, field_dy, field_d, unpack(vel_d, types_d, extra_d)),
]
for i, (left, top) in enumerate(boxes):
    ax = fig.add_axes([left / W, 1 - (top + panel_h) / H, panel_w / W, panel_h / H])
    draw_panel(ax, i, *data[i])

# everything outside the panels is placed in pixels on an overlay
ov = fig.add_axes([0, 0, 1, 1], facecolor='none')
ov.set_xlim(0, W)
ov.set_ylim(H, 0)
ov.axis('off')
ov.set_zorder(5)
renderer = fig.canvas.get_renderer()

for i, (left, top) in enumerate(boxes):
    base = top - 54
    ov.text(left - 4, base, titles[i], fontsize=50, ha='left', va='baseline')
    val = ov.text(left + panel_w + 2, base, means[i], fontsize=50, ha='right', va='baseline')
    x0 = val.get_window_extent(renderer).x0
    ov.text(x0 - 60, base, '=', fontsize=50, va='baseline')
    ov.text(x0 - 105, base, r'$\rangle$', fontsize=50, va='baseline')
    ov.text(x0 - 144, base - 33, '-1', fontsize=30, va='baseline')
    ov.text(x0 - 172, base + 16, 'B', fontsize=29, va='baseline')
    ov.text(x0 - 209, base, 's', fontsize=50, va='baseline')
    ov.text(x0 - 262, base, 's', fontsize=50, va='baseline')
    ov.text(x0 - 287, base, r'$\langle$', fontsize=50, va='baseline')

for cx in (906, 2347):
    ov.text(cx, 3000, 'x (m)', fontsize=50, ha='center', va='baseline')
for cy in (720, 2175):
    ov.text(68, cy, 'y (m)', fontsize=50, rotation=90, ha='center', va='center')

# colour bar
cax = fig.add_axes([564 / W, 1 - 3061 / H, (2223 - 564) / W, 29 / H])
cb = Colorbar(cax, ScalarMappable(norm=Normalize(0.5, 2.0), cmap=cmap), orientation='horizontal',
              ticks=[])
cb.minorticks_off()
cb.outline.set_visible(False)
ov.text(598, 3117, '0.5', fontsize=50, ha='center', va='baseline')
ov.text(2198, 3117, '2.0', fontsize=50, ha='center', va='baseline')
ov.text(2294, 3100, 's', fontsize=44, va='baseline')
ov.text(2366, 3100, 's', fontsize=44, va='baseline')
ov.text(2398, 3113, 'B', fontsize=26, va='baseline')
ov.text(2424, 3070, '-1', fontsize=26, va='baseline')

# reference vector box
for (x0, y0, x1, y1, lw) in [(2545, 3009, 2905, 3009, 3.6), (2545, 3097, 2905, 3097, 3.6),
                             (2545, 3009, 2545, 3097, 1.4), (2905, 3009, 2905, 3097, 1.4)]:
    ov.add_line(Line2D([x0, x1], [y0, y1], color='k', lw=lw, solid_capstyle='butt'))
ov.add_line(Line2D([2562, 2666], [3053, 3053], color='k', lw=2.6))
ov.add_line(Line2D([2646, 2666, 2646], [3043, 3053, 3063], color='k', lw=2.6))
ov.text(2674, 3083, '0.5', fontsize=46, va='baseline')
ov.text(2782, 3083, 'ms', fontsize=42, va='baseline')
ov.text(2866, 3052, '-1', fontsize=26, va='baseline')

fig.savefig('out.png', dpi=100, facecolor='white')
